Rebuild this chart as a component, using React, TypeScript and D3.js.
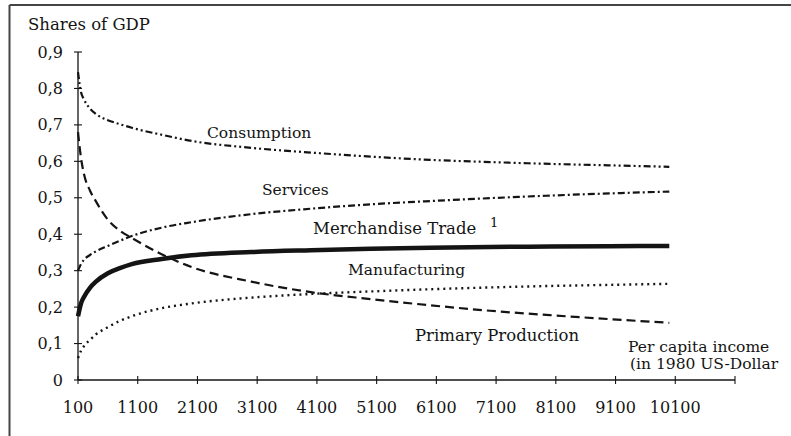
import React from "react";
import * as d3 from "d3";

const incomes = [100, 150, 200, 300, 400, 600, 800, 1000, 1500, 2000, 3000, 4000, 5000, 6000, 7000, 8000, 9000, 10000];
const consumption = [0.845, 0.79, 0.77, 0.745, 0.73, 0.713, 0.702, 0.692, 0.673, 0.656, 0.637, 0.624, 0.613, 0.604, 0.598, 0.593, 0.589, 0.585];
const services = [0.3, 0.318, 0.33, 0.343, 0.353, 0.368, 0.382, 0.395, 0.418, 0.433, 0.455, 0.47, 0.482, 0.491, 0.499, 0.506, 0.512, 0.517];
const merchandise = [0.175, 0.21, 0.228, 0.253, 0.27, 0.293, 0.307, 0.318, 0.332, 0.342, 0.351, 0.356, 0.36, 0.363, 0.365, 0.366, 0.367, 0.368];
const manufacturing = [0.06, 0.08, 0.093, 0.11, 0.125, 0.145, 0.162, 0.175, 0.197, 0.21, 0.226, 0.236, 0.243, 0.249, 0.254, 0.258, 0.261, 0.264];
const primary = [0.68, 0.61, 0.565, 0.52, 0.49, 0.44, 0.41, 0.39, 0.345, 0.31, 0.27, 0.241, 0.222, 0.205, 0.19, 0.178, 0.167, 0.157];

const xTicks = [100, 1100, 2100, 3100, 4100, 5100, 6100, 7100, 8100, 9100, 10100, 11100];
const xTickLabels = ["100", "1100", "2100", "3100", "4100", "5100", "6100", "7100", "8100", "9100", "10100", ""];
const yTicks = [0, 0.1, 0.2, 0.3, 0.4, 0.5, 0.6, 0.7, 0.8, 0.9];
const yTickLabels = ["0", "0,1", "0,2", "0,3", "0,4", "0,5", "0,6", "0,7", "0,8", "0,9"];

const FONT = "'DejaVu Serif', serif";
const INK = "#141414";

export default function App() {
  const x = d3.scaleLinear().domain([100, 11100]).range([78, 735]);
  const y = d3.scaleLinear().domain([0, 0.9]).range([380, 52]);
  const line = (vals: number[]) =>
    d3
      .line<number>()
      .x((_, i) => x(incomes[i]))
      .y((v) => y(v))
      .curve(d3.curveMonotoneX)(vals) || "";

  const series = [
    { vals: consumption, dash: "7,3,2,3,2,3", w: 2.2 },
    { vals: services, dash: "7,3,2,3", w: 2.2 },
    { vals: merchandise, dash: "none", w: 4.5 },
    { vals: manufacturing, dash: "2,4", w: 2.4 },
    { vals: primary, dash: "9,5", w: 2.2 },
  ];

  return (
    <svg
      width={791}
      height={436}
      style={{ position: "absolute", left: 0, top: 0, background: "#fff" }}
    >
      <rect x={0} y={0} width={791} height={436} fill="#fff" />
      {/* frame */}
      <line x1={9.5} y1={5} x2={791} y2={5} stroke="#444" strokeWidth={2} />
      <line x1={9.5} y1={5} x2={9.5} y2={436} stroke="#444" strokeWidth={2} />

      <text x={28} y={30} fontFamily={FONT} fontSize={16.5} fill={INK}>
        Shares of GDP
      </text>

      {/* y axis */}
      <line x1={x(100)} y1={y(0.9)} x2={x(100)} y2={y(0)} stroke={INK} strokeWidth={1.3} />
      {yTicks.map((t, i) => (
        <g key={"y" + i}>
          <line x1={x(100) - 4} x2={x(100) + 4} y1={y(t)} y2={y(t)} stroke={INK} strokeWidth={1.1} />
          <text
            x={63}
            y={y(t) + 5.5}
            textAnchor="end"
            fontFamily={FONT}
            fontSize={16}
            fill={INK}
          >
            {yTickLabels[i]}
          </text>
        </g>
      ))}

      {/* x axis */}
      <line x1={x(100)} y1={y(0)} x2={x(11100)} y2={y(0)} stroke={INK} strokeWidth={1.3} />
      {xTicks.map((t, i) => (
        <g key={"x" + i}>
          <line x1={x(t)} x2={x(t)} y1={y(0) - 4} y2={y(0) + 4} stroke={INK} strokeWidth={1.1} />
          <text
            x={x(t)}
            y={413}
            textAnchor="middle"
            fontFamily={FONT}
            fontSize={16}
            fill={INK}
          >
            {xTickLabels[i]}
          </text>
        </g>
      ))}

      {series.map((s, i) => (
        <path
          key={"s" + i}
          d={line(s.vals)}
          fill="none"
          stroke={INK}
          strokeWidth={s.w}
          strokeDasharray={s.dash}
          strokeLinecap="butt"
        />
      ))}

      <g fontFamily={FONT} fontSize={15.5} fill={INK}>
        <text x={207} y={138}>Consumption</text>
        <text x={262} y={195}>Services</text>
        <text x={313} y={234} fontSize={16.5}>Merchandise Trade</text>
        <text x={490} y={227} fontSize={13}>1</text>
        <text x={348} y={275}>Manufacturing</text>
        <text x={415} y={341} fontSize={16.5}>Primary Production</text>
        <text x={628} y={352}>Per capita income</text>
        <text x={630} y={369}>(in 1980 US-Dollar</text>
      </g>
    </svg>
  );
}
